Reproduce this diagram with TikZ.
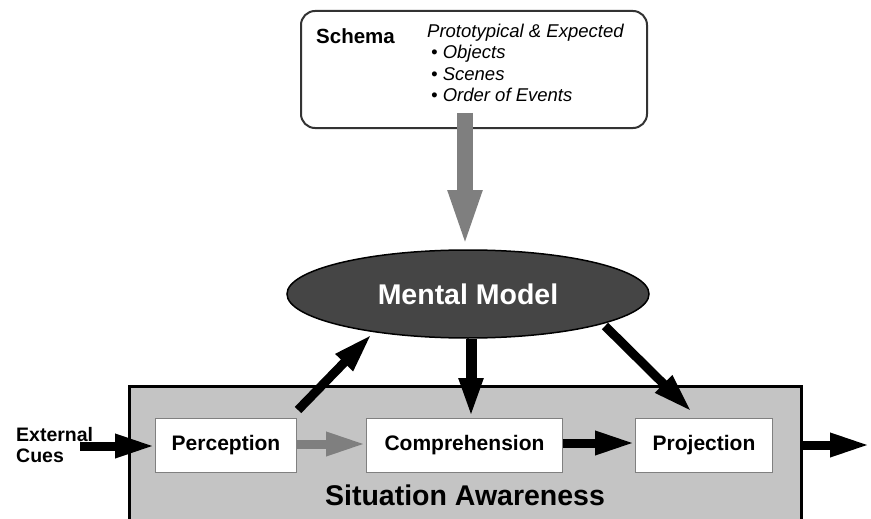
\documentclass[tikz,border=0pt]{standalone}
\usepackage{fontspec}
\setmainfont{Liberation Sans}
\usetikzlibrary{arrows.meta,shapes.geometric}
\definecolor{sagray}{HTML}{C4C4C4}
\definecolor{mmfill}{HTML}{454545}
\definecolor{arrgray}{HTML}{7F7F7F}
\tikzset{
  stagebox/.style={draw=black!50, line width=1pt, fill=white, minimum height=54pt, inner sep=0pt, font=\bfseries\fontsize{21}{24}\selectfont},
  bigarrow/.style={line width=9pt, -{Triangle[length=40pt,width=22pt]}},
  grayarrow/.style={line width=9pt, draw=arrgray, -{Triangle[length=40pt,width=22pt]}},
  protoline/.style={font=\itshape\fontsize{18.5}{21}\selectfont, anchor=west, inner sep=0pt},
}
\begin{document}
\begin{tikzpicture}[x=1pt,y=-1pt]
\useasboundingbox (0,0) rectangle (871,519);
% Schema box
\node[draw=black!80, line width=2pt, rounded corners=14pt, minimum width=346pt, minimum height=117pt, anchor=north west] (schema) at (300,10) {};
\node[font=\bfseries\fontsize{20.5}{24}\selectfont, anchor=west, inner sep=0pt] (schemat) at (316,36) {Schema};
\node[protoline] (p1) at (427,33) {Prototypical \& Expected};
\node[protoline] (p2) at (431,54) {• Objects};
\node[protoline] (p3) at (431,74.5) {• Scenes};
\node[protoline] (p4) at (431,95) {• Order of Events};
% Situation awareness box
\node[draw=black, line width=3pt, fill=sagray, minimum width=672pt, minimum height=150pt, anchor=north west] (sa) at (128,385) {};
\node[font=\bfseries\fontsize{28.5}{32}\selectfont] (satext) at (465,495) {Situation Awareness};
% Mental model
\node[ellipse, draw=black, line width=1.5pt, fill=mmfill, minimum width=362pt, minimum height=88pt, text=white, font=\bfseries\fontsize{28.5}{32}\selectfont] (mm) at (468,294) {Mental Model};
% Gray schema arrow
\coordinate (gs) at (465,113);
\draw[line width=16pt, draw=arrgray, -{Triangle[length=59pt,width=30pt]}] (gs) -- (465,249);
% Stage boxes
\node[stagebox, minimum width=141pt, anchor=north west] (perc) at (155,418) {Perception};
\node[stagebox, minimum width=196pt, anchor=north west] (comp) at (366,418) {Comprehension};
\node[stagebox, minimum width=137pt, anchor=north west] (proj) at (635,418) {Projection};
% External cues
\node[font=\bfseries\fontsize{19.5}{21}\selectfont, align=left, anchor=west, inner sep=0pt] (ext) at (16,445) {External\\Cues};
\coordinate (extstart) at (80,446);
\draw[bigarrow] (extstart) -- (perc.west |- extstart);
% Horizontal arrows
\draw[grayarrow] (perc.east |- 0,444) -- (comp.west |- 0,444);
\draw[bigarrow] (comp.east |- 0,443) -- (proj.west |- 0,443);
\coordinate (out) at (870,445);
\draw[bigarrow] (sa.east |- out) -- (out);
% Mental model connections
\draw[bigarrow] (298,410) -- (372,334);
\draw[bigarrow, line width=11pt] (mm.south -| 471,0) -- (comp.north -| 471,0);
\draw[bigarrow] (605,326) -- (692,412);
\end{tikzpicture}
\end{document}
